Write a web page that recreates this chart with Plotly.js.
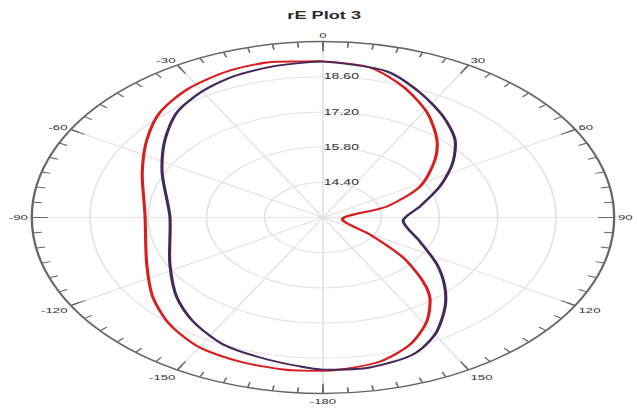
<!DOCTYPE html>
<html>
<head>
<meta charset="utf-8">
<script src="https://cdn.plot.ly/plotly-3.0.1.min.js"></script>
<style>
html,body{margin:0;padding:0;background:#fff;}
#wrap{width:637px;height:414px;overflow:hidden;position:relative;}
#plot{width:385px;height:414px;transform:scaleX(1.6545);transform-origin:0 0;}
</style>
</head>
<body>
<div id="wrap"><div id="plot"></div></div>
<script>
// Data (angle in degrees clockwise from top, value in plot units)
const redTheta = [0, 10.7, 20.3, 30.9, 41.4, 49.4, 62.1, 74.1, 97, 120.9, 129.6, 136.6, 141.1, 148.9, 157.5, 166.5, 176.1, 180, 189, 199.2, 209.8, 220.8, 232.1, 246.2, 271.6, 292.4, 306.3, 316.8, 327.3, 338.3, 347.7, 354.9, 360];
const redR = [19.21, 19.07, 18.55, 17.87, 17.14, 16.55, 15.64, 14.60, 13.47, 14.32, 15.50, 16.50, 17.09, 17.83, 18.47, 18.89, 19.06, 19.10, 19.12, 19.07, 18.96, 18.63, 18.18, 17.63, 17.28, 17.70, 18.25, 18.73, 19.05, 19.25, 19.31, 19.23, 19.21];
const purpleTheta = [0, 14.8, 25.1, 35.7, 45.6, 55.0, 66.3, 79.4, 93.5, 112.3, 124.3, 133.5, 140.7, 150, 158.3, 169.3, 180, 185.3, 195.2, 205.4, 217.1, 227.8, 243.0, 270.6, 294.8, 309.2, 320.0, 329.3, 338.9, 348.7, 356.4, 360];
const purpleR = [19.20, 19.01, 18.49, 17.95, 17.44, 16.81, 16.07, 15.37, 14.93, 15.52, 16.32, 17.04, 17.63, 18.38, 18.86, 19.07, 19.05, 18.95, 18.77, 18.59, 18.18, 17.74, 17.13, 16.68, 17.26, 17.90, 18.46, 18.78, 19.01, 19.13, 19.18, 19.20];

const radialTicks = [14.4, 15.8, 17.2, 18.6];
const radialTickText = ['14.40', '15.80', '17.20', '18.60'];
const angleTicks = [0, 30, 60, 90, 120, 150, 180, 210, 240, 270, 300, 330];
const angleTickText = ['0', '30', '60', '90', '120', '150', '-180', '-150', '-120', '-90', '-60', '-30'];
const minorAngleTicks = [];
for (let a = 0; a < 360; a += 5) minorAngleTicks.push(a);

const domX = [0.0499, 0.9642];
const domY = [0.0495, 0.8998];

const traces = [
  {type: 'scatterpolar', subplot: 'polar', mode: 'lines', theta: redTheta, r: redR,
   line: {color: '#d81e1e', width: 1.9, shape: 'spline', smoothing: 0.8}, hoverinfo: 'skip'},
  {type: 'scatterpolar', subplot: 'polar', mode: 'lines', theta: purpleTheta, r: purpleR,
   line: {color: '#45295a', width: 1.9, shape: 'spline', smoothing: 0.8}, hoverinfo: 'skip'},
  {type: 'scatterpolar', subplot: 'polar2', mode: 'lines', theta: [0], r: [13], line: {width: 0}, hoverinfo: 'skip'}
];

const layout = {
  width: 385, height: 414,
  margin: {l: 0, r: 0, t: 0, b: 0},
  paper_bgcolor: '#fff',
  showlegend: false,
  title: {text: 'rE Plot 3', x: 0.509, xref: 'container', xanchor: 'center', y: 0.963, yref: 'container', yanchor: 'middle',
          font: {family: 'Liberation Sans, Arial, sans-serif', size: 11, color: '#2a2a2a', weight: 'bold'}},
  polar: {
    domain: {x: domX, y: domY},
    bgcolor: 'rgba(0,0,0,0)',
    radialaxis: {range: [13, 20], tickvals: radialTicks, ticktext: radialTickText, showline: false, ticks: '',
                 angle: 90, tickangle: 90, side: 'clockwise', gridcolor: '#e2e2e2', gridwidth: 1,
                 tickfont: {family: 'Liberation Sans, Arial, sans-serif', size: 8.5, color: '#333'}},
    angularaxis: {direction: 'clockwise', rotation: 90, tickvals: angleTicks, ticktext: angleTickText,
                  ticks: 'inside', ticklen: 9, tickcolor: '#666', tickwidth: 1,
                  showline: true, linecolor: '#666', linewidth: 1.4, gridcolor: '#e2e2e2', gridwidth: 1,
                  tickfont: {family: 'Liberation Sans, Arial, sans-serif', size: 8, color: '#333'}}
  },
  polar2: {
    domain: {x: domX, y: domY},
    bgcolor: 'rgba(0,0,0,0)',
    radialaxis: {visible: false, range: [13, 20]},
    angularaxis: {direction: 'clockwise', rotation: 90, tickvals: minorAngleTicks, showticklabels: false,
                  ticks: 'inside', ticklen: 5, tickcolor: '#666', tickwidth: 1, showline: false, showgrid: false}
  }
};

Plotly.newPlot('plot', traces, layout, {staticPlot: true, displayModeBar: false});
</script>
</body>
</html>
